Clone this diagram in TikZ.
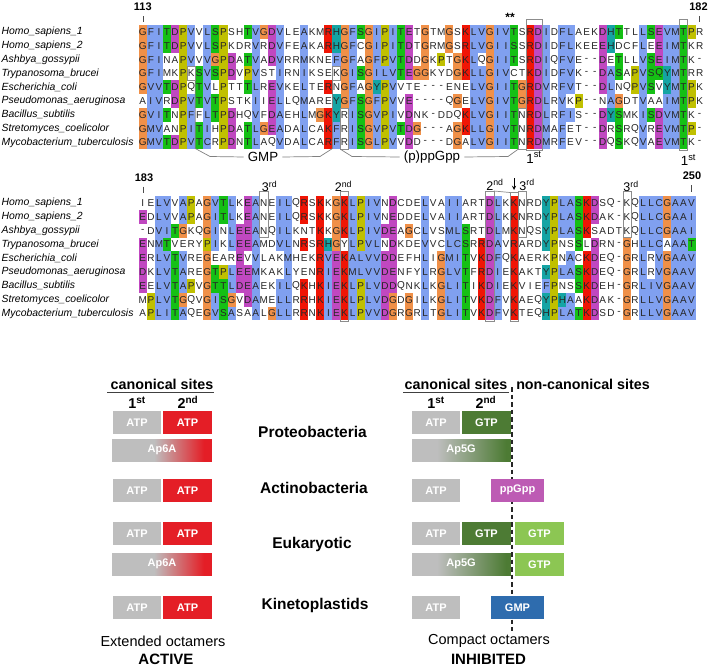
\documentclass[tikz,border=0pt]{standalone}
\usepackage{fontspec}
\setmainfont{Liberation Sans}
\definecolor{clb}{HTML}{80A0F0}
\definecolor{clr}{HTML}{F01505}
\definecolor{clg}{HTML}{15C015}
\definecolor{clm}{HTML}{C048C0}
\definecolor{clo}{HTML}{F09048}
\definecolor{clc}{HTML}{15A4A4}
\definecolor{cly}{HTML}{C0C000}
\definecolor{clw}{HTML}{FFFFFF}
\definecolor{gry}{HTML}{BEBEBE}
\definecolor{atpred}{HTML}{E41E26}
\definecolor{dkgreen}{HTML}{4D7B34}
\definecolor{ltgreen}{HTML}{8CC653}
\definecolor{ppmag}{HTML}{BD5BB4}
\definecolor{gmpblue}{HTML}{2E6CAE}
\newcount\colno
\def\seqrow#1#2#3{\colno=0\relax\def\ry{#1}\seqstep#2!\relax#3!\relax}
\def\seqstep#1#2\relax#3#4\relax{%
  \ifx!#1\else
    \advance\colno by 1\relax
    \pgfmathsetmacro\rx{142.8+(\the\colno-1)*8.07}%
    \fill[cl#3] (\rx-4.04,\ry-6.9) rectangle (\rx+4.04,\ry+6.9);%
    \node[res] at (\rx,\ry) {#1};%
    \seqstep#2\relax#4\relax
  \fi}
\tikzset{
 res/.style={inner sep=0, font=\fontsize{10}{10}\selectfont, text=black!85},
 sp/.style={anchor=west, inner sep=0, font=\fontsize{10.4}{12}\selectfont\itshape},
 gbox/.style={draw=black!45, line width=0.7},
 conn/.style={draw=black!50, line width=0.7},
 num/.style={font=\fontsize{11}{12}\selectfont\bfseries, inner sep=0},
 lab/.style={font=\fontsize{13.3}{14}\selectfont, inner sep=0},
 slab/.style={font=\fontsize{12.5}{13}\selectfont, inner sep=0},
 bx/.style={inner sep=0, text=white, font=\fontsize{11}{12}\selectfont\bfseries},
 grp/.style={font=\fontsize{15.5}{17}\selectfont\bfseries, inner sep=0},
 hdr/.style={font=\fontsize{14.3}{16}\selectfont\bfseries, inner sep=0},
 captxt/.style={font=\fontsize{14.5}{16}\selectfont, inner sep=0},
 captxtb/.style={font=\fontsize{15}{16}\selectfont\bfseries, inner sep=0},
}
\begin{document}
\begin{tikzpicture}[x=1pt,y=-1pt]
\useasboundingbox (0,0) rectangle (709,666);
\fill[white] (0,0) rectangle (709,666);

% ---------- species labels ----------
\foreach \nm [count=\i] in {Homo\_sapiens\_1,Homo\_sapiens\_2,Ashbya\_gossypii,Trypanosoma\_brucei,Escherichia\_coli,Pseudomonas\_aeruginosa,Bacillus\_subtilis,Stretomyces\_coelicolor,Mycobacterium\_tuberculosis}{
  \node[sp] (la\i) at (1.5,{32+(\i-1)*13.8}) {\nm};
  \node[sp] (lb\i) at (1.5,{203+(\i-1)*13.8}) {\nm};
}

% ---------- block 1 ----------
\seqrow{32}{GFITDPVVLSPSHTVGDVLEAKMRHGFSGIPITETGTMGSKLVGIVTSRDIDFLAEKDHTTLLSEVMTPR}{obbgmybwbgywwgbombwwbwwrcobgobybgmwowwowrbbobbgwrmbwbbwwwmcgwwbgmbbgyw}
\seqrow{45.8}{GFITDPVVLSPKDRVRDVFEAKARHGFCGIPITDTGRMGSRLVGIISSRDIDFLKEEEHDCFLEEIMTKR}{obbgmybwbgywwwbwmbwwbwwrcobwobybgmwowwowrbbobbgwrmbwbbwwwmcwwwbwmbbgww}
\seqrow{59.6}{GFINAPVVVGPDATVADVRRMKNEFGFAGFPVTDDGKPTGKLQGIITSRDIQFVE--DETLLVSEIMTK-}{obbwwybwboymwgbwmbwwbwwwbobwobybgmwowyworbwobbgwrmbwbbwwwmwgwwbgmbbgww}
\seqrow{73.4}{GFIMKPKSVSPDVPVSTIRNIKSEKGISGILVTEGGKYDGKLLGIVCTKDIDFVK--DASAPVSQYMTRR}{obbwwywgbgymwybwwbwwbwwwwobgobbbgmoowwworbbobbwwrmbwbbwwwmbgwybggcbgww}
\seqrow{87.2}{GVVTDPQTVLPTTTLREVKELTERNGFAGYPVVTE---ENELVGIITGRDVRFVT--DLNQPVSVYMTPK}{obbgmywgbwywwgbwmbwwbwwrwobwocybwwwwwwwwwbbobbgormbwbbwwwmbwwybgwcbgyw}
\seqrow{101}{AIVRDPVTVTPSTKIIELLQMAREYGFSGFPVVE----QGELVGIVTGRDLRVKP--NAGDTVAAIMTPK}{wbbwmybgbgywwwbwmbwwbwwwcobgobybwmwwwwwowbbobbgormbwbwywwwbowwbwwbbgyw}
\seqrow{114.8}{GVITNPFFLTPDHQVFDAEHLMGKYRISGVPIVDNK-DDQKLVGIITNRDLRFIS--DYSMKISDVMTK-}{obbgwybwbgymwwbwmbwwbworcwbgobybwmwwwwwwrbbobbgwrmbwbbwwwmcgwwbgmbbgww}
\seqrow{128.6}{GMVANPITIHPDATLGEADALCAKFRISGVPVTDG---AGKLLGIVTNRDMAFET--DRSRQVREVMTP-}{obbwwybgbwymwgbombwwbwwrbwbgobybgmowwwworbbobbgwrmbwbwwwwmwgwwbwmbbgyw}
\seqrow{142.4}{GMVTDPVTCRPDNTLAQVDALCARFRISGLPVVDD---DGALVGIITNRDMRFEV--DQSKQVAEVMTK-}{obbgmybgbwymwgbwwbwwbwwrbwbgobybwmwwwwwowbbobbgwrmbwbwwwwmwgwwbwmbbgww}

% ---------- block 2 ----------
\seqrow{203}{IELVVAPAGVTLKEANEILQRSKKGKLPIVNDCDELVAIIARTDLKKNRDYPLASKDSQ-KQLLCGAAV}{wwbbwbywobgbwmbwwbbwrwrworbybbwmwwwbwwbbwwwmbwrwwwcybbgrmwwwwwbbbobbb}
\seqrow{216.8}{EDLVVAPAGITLKEANEILQRSKKGKLPIVNEDDELVAIIARTDLKKNRDYPLASKDAK-KQLLCGAAI}{mwbbwbywobgbwmbwwbbwrwrworbybbwmwwwbwwbbwwwmbwrwwwcybbgrmwwwwwbbbobbb}
\seqrow{230.6}{-DVITGKQGINLEEANQILKNTKKGKLPIVDEAGCLVSMLSRTDLMKNQSYPLASKSADTKQLLCGAAI}{wwbbgowwobwbmmbwwbbwwwrworbybbmmwowbwwbbgwwmbwrwwwcybbgrwwwwwwbbbobbb}
\seqrow{244.4}{ENMTVERYPIKLEEAMDVLNRSRHGYLPVLNDKDEVVCLCSRRDAVRARDYPNSSLDRN-GHLLCAAAT}{mwbgwwwwybwbmmbwwbbwrwrcowbybbwmwwwbwwbbgwrmbwrwwwcywwgwmwwwowbbbwbbg}
\seqrow{258.2}{ERLVTVREGEAREVVLAKMHEKRVEKALVVDDEFHLIGMITVKDFQKAERKPNACKDEQ-GRLRVGAAV}{mwbbgbwwowwwmwbwwwbwwwrbmrbbbbmmwwwbwobbgwrmbwrwwwwywbwrmwwwowbwbobbb}
\seqrow{272}{DKLVTAREGTPLEEMKAKLYENRIEKMLVVDENFYLRGLVTFRDIEKAKTYPLASKDEQ-GRLRVGAAV}{mwbbgbwwogybmmbwwwbwwwrbmrbbbbmmwwwbwobbgwrmbwrwwwcybbgrmwwwowbwbobbb}
\seqrow{285.8}{EELVTAPVGTTLDEAEKILQKHKIEKLPLVDDQNKLKGLITIKDIEKVIEFPNSSKDEH-GRLIVGAAV}{mwbbgbywoggbmmbwwbbwrwrbmrbybbmmwwwbwobbgwrmbwrwwwbywwgrmwwwowbbbobbb}
\seqrow{299.6}{MPLVTGQVGISGVDAMELLRRHKIEKLPLVDGDGILKGLITVKDFVKAEQYPHAAKDAK-GRLLVGAAV}{wybbgowwobgowmbwwbbwrwrbmrbybbmowowbwobbgwrmbwrwwwcycbwrmwwwowbbbobbb}
\seqrow{313.4}{APLITAQEGVSASAALGLLRRNKIEKLPVVDGRGRLTGLITVKDFVKTEQHPLATKDSD-GRLLVGAAV}{wybbgbwwobgbwwbwobbwrwrbmrbybbmowowbwobbgwrmbwrwwwcybbgrmwwwowbbbobbb}

% ---------- numbering ----------
\node[num] (n113) at (142.8,6.5) {113};
\draw[black!70, line width=0.6] (142.8,16.5) -- (142.8,22);
\node[num] (n182) at (698.5,6.5) {182};
\draw[black!70, line width=0.6] (699,16.5) -- (699,22);
\node[num] (n183) at (144,177.5) {183};
\draw[black!70, line width=0.6] (142.8,186.5) -- (142.8,192.5);
\node[num] (n250) at (692,176) {250};
\draw[black!70, line width=0.6] (691.6,185) -- (691.6,191.5);
\node[font=\fontsize{12}{12}\selectfont\bfseries, inner sep=0, anchor=base] (stars) at (510,21.5) {**};

% ---------- block 1 boxes ----------
\draw[gbox] (187.19,66.5) rectangle (195.26,80.3);
\draw[gbox] (332.45,66.5) rectangle (340.52,80.3);
\draw[gbox] (340.52,107.9) rectangle (348.59,149.3);
\draw[gbox] (518.06,107.9) rectangle (526.13,149.3);
\draw[gbox] (526.13,19.5) rectangle (542.27,150);
\draw[gbox] (679.46,19.5) rectangle (687.53,150);

\node[lab] (gmp) at (263,157) {GMP};
\node[lab] (ppg) at (432,157) {(p)ppGpp};
\coordinate (g1) at (195.26,80.3);
\coordinate (g2) at (332.45,80.3);
\coordinate (p1) at (340.52,149.3);
\coordinate (p2) at (518.06,149.3);
\draw[conn] (g1) -- (195.26,148.5) -- (210,156.5) -- ([xshift=-4]gmp.west);
\draw[conn] ([xshift=4]gmp.east) -- (320,156.5) -- (332.45,148.5) -- (g2);
\draw[conn] (p1) -- (352,156.5) -- ([xshift=-4]ppg.west);
\draw[conn] ([xshift=4]ppg.east) -- (508,156.5) -- (p2);
\node[lab] (s1a) at (534,157.5) {1\textsuperscript{st}};
\node[lab] (s1b) at (688.5,160) {1\textsuperscript{st}};

% ---------- block 2 boxes ----------
\draw[gbox] (259.82,191) rectangle (267.89,237.5);
\draw[gbox] (340.52,191) rectangle (348.59,321);
\draw[gbox] (485.78,191) rectangle (493.85,321);
\draw[gbox] (509.99,192.5) rectangle (518.06,321);
\draw[gbox] (518.06,191) rectangle (526.13,237.5);
\draw[gbox] (622.97,191) rectangle (631.04,237.5);
\draw[gbox] (493.85,191) -- (509.99,192.5);
\node[slab] (t3a) at (269.5,186.5) {3\textsuperscript{rd}};
\node[slab] (t2a) at (343.5,186.5) {2\textsuperscript{nd}};
\node[slab] (t2b) at (495,185) {2\textsuperscript{nd}};
\node[slab] (t3b) at (527,185) {3\textsuperscript{rd}};
\node[slab] (t3c) at (631,186.5) {3\textsuperscript{rd}};
\draw[-stealth, line width=0.9] (514,178) -- (514,190);

% ---------- lower panel ----------
\node[hdr] (canL) at (162,384) {canonical sites};
\draw[black!75, line width=0.9] (107,392.5) -- (214,392.5);
\node[hdr] (l1st) at (137,402.5) {1\textsuperscript{st}};
\node[hdr] (l2nd) at (188,402.5) {2\textsuperscript{nd}};
\node[hdr] (canR) at (456,384) {canonical sites};
\draw[black!75, line width=0.9] (403,392.5) -- (509,392.5);
\node[hdr] (ncan) at (583,384) {non-canonical sites};
\node[hdr] (r1st) at (436,402.5) {1\textsuperscript{st}};
\node[hdr] (r2nd) at (486,402.5) {2\textsuperscript{nd}};
\coordinate (dtop) at (512,387);
\coordinate (dbot) at (512,631);
\draw[black!85, line width=1.4, dash pattern=on 4.5pt off 3pt] (dtop) -- (dbot);

% left column
\foreach \yt/\nm in {411/a,479/b,522/c,596/d}{
  \fill[gry] (113,\yt) rectangle (161,\yt+22.5);
  \fill[atpred] (163,\yt) rectangle (212,\yt+22.5);
  \node[bx] (La\nm) at (137,\yt+11.25) {ATP};
  \node[bx] (Lb\nm) at (187.5,\yt+11.25) {ATP};
}
\foreach \yt/\nm in {439/a,553/b}{
  \fill[gry] (112,\yt) rectangle (154,\yt+22.5);
  \shade[left color=gry, right color=atpred] (154,\yt) rectangle (204,\yt+22.5);
  \fill[atpred] (203.8,\yt) rectangle (212,\yt+22.5);
  \node[bx] (Lx\nm) at (162,\yt+11.25) {Ap6A};
}
% right column
\foreach \yt/\nm in {411/a,479/b,522/c,596/d}{
  \fill[gry] (412,\yt) rectangle (460,\yt+22.5);
  \node[bx] (Ra\nm) at (436,\yt+11.25) {ATP};
}
\fill[dkgreen] (462,411) rectangle (511,433.5);
\node[bx] (Rga) at (486.5,422.25) {GTP};
\fill[dkgreen] (462,522) rectangle (511,544.5);
\node[bx] (Rgc) at (486.5,533.25) {GTP};
\fill[ltgreen] (515,522) rectangle (564,544.5);
\node[bx] (Rlc) at (539.5,533.25) {GTP};
\fill[ltgreen] (515,553) rectangle (564,575.5);
\node[bx] (Rld) at (539.5,564.25) {GTP};
\fill[ppmag] (491,479) rectangle (544,501.5);
\node[bx] (Rpp) at (517.5,490.25) {ppGpp};
\fill[gmpblue] (491,596) rectangle (544,618.5);
\node[bx] (Rgm) at (517.5,607.25) {GMP};
\foreach \yt/\nm in {439/a,553/b}{
  \fill[gry] (412,\yt) rectangle (437,\yt+22.5);
  \shade[left color=gry, right color=dkgreen] (437,\yt) rectangle (506,\yt+22.5);
  \fill[dkgreen] (505.8,\yt) rectangle (511,\yt+22.5);
  \node[bx] (Rx\nm) at (461,\yt+11.25) {Ap5G};
}

% group labels
\node[grp] (gp1) at (312.5,432) {Proteobacteria};
\node[grp] (gp2) at (314,488) {Actinobacteria};
\node[grp] (gp3) at (312,544) {Eukaryotic};
\node[grp] (gp4) at (315,605) {Kinetoplastids};

\node[captxt] (extd) at (163,641) {Extended octamers};
\node[captxtb] (actv) at (166,659) {ACTIVE};
\node[captxt] (comp) at (489,641) {Compact octamers};
\node[captxtb] (inhb) at (488.5,659) {INHIBITED};
\end{tikzpicture}
\end{document}
